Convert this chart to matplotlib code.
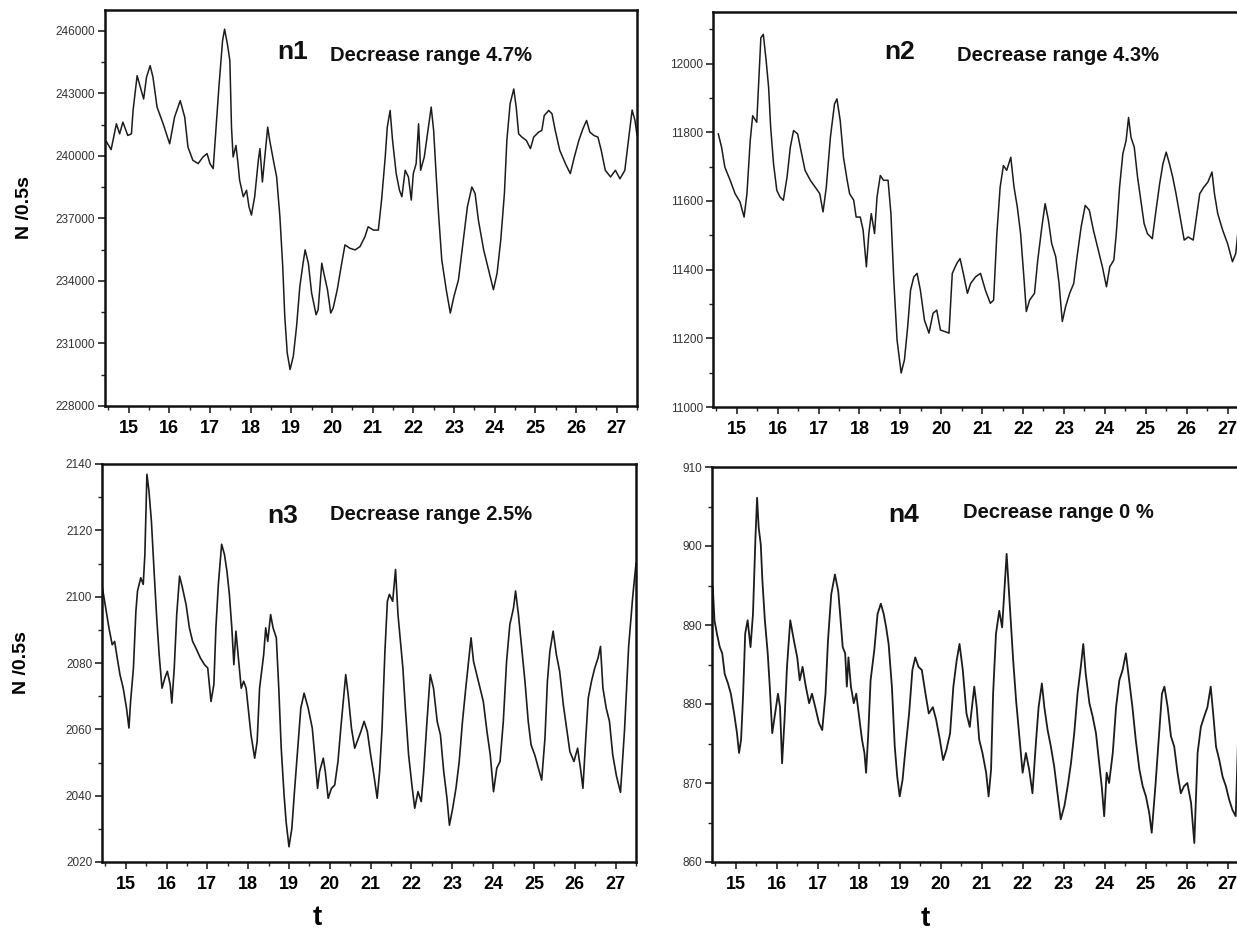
import matplotlib
matplotlib.use('Agg')
import matplotlib.pyplot as plt
from matplotlib.ticker import MultipleLocator

plt.rcParams['font.family'] = ['Liberation Sans', 'DejaVu Sans']

# ---- data ----
n1_t = [14.45, 14.57, 14.70, 14.78, 14.86, 14.98, 15.07, 15.11, 15.21, 15.29, 15.37, 15.44, 15.53, 15.60,
        15.70, 15.85, 15.93, 16.01, 16.13, 16.27, 16.38, 16.46, 16.58, 16.71, 16.83, 16.93, 17.00, 17.08,
        17.14, 17.22, 17.31, 17.36, 17.43, 17.49, 17.53, 17.57, 17.64, 17.69, 17.73, 17.82, 17.90, 17.96,
        18.02, 18.10, 18.19, 18.23, 18.29, 18.35, 18.42, 18.47, 18.56, 18.64, 18.72, 18.79, 18.84, 18.90,
        18.97, 19.05, 19.13, 19.21, 19.29, 19.34, 19.42, 19.50, 19.61, 19.66, 19.75, 19.80, 19.89, 19.97,
        20.03, 20.13, 20.24, 20.32, 20.44, 20.57, 20.69,
        20.81, 20.89, 21.02, 21.14, 21.22, 21.31, 21.36, 21.43, 21.49, 21.58, 21.66, 21.72, 21.80, 21.88,
        21.95, 22.00, 22.07, 22.13, 22.18, 22.27, 22.35, 22.44, 22.50, 22.56, 22.62, 22.70, 22.81, 22.91,
        23.00, 23.11, 23.23, 23.33, 23.44, 23.52, 23.60, 23.73, 23.85, 23.97, 24.06, 24.15, 24.24, 24.30,
        24.38, 24.47, 24.53, 24.59, 24.67, 24.78, 24.88, 24.96, 25.08, 25.16, 25.22, 25.33, 25.41, 25.49,
        25.60, 25.74, 25.86, 25.96, 26.07, 26.17, 26.26, 26.34, 26.44, 26.54, 26.62, 26.72, 26.85, 26.97,
        27.08, 27.20, 27.30, 27.38, 27.45, 27.50]
n1 = [240700, 240300, 241540, 241060, 241620, 240980, 241060, 242180, 243850, 243290, 242730, 243770,
      244330, 243770, 242340, 241540, 241060, 240580, 241860, 242650, 241860, 240420, 239790, 239630,
      239950, 240110, 239630, 239390, 241060, 243290, 245520, 246080, 245360, 244570, 241380, 239950,
      240500, 239630, 238830, 238040, 238350, 237560, 237160, 238040, 239790, 240350, 238750, 239950,
      241380, 240740, 239790, 238990, 237080, 234690, 232300, 230550, 229750, 230390, 231820, 233730,
      234850, 235490, 234850, 233420, 232380, 232620, 234850, 234370, 233580, 232460, 232700, 233580,
      234850, 235730, 235570, 235490, 235650,
      236120, 236600, 236440, 236440, 237880, 239950, 241380, 242180, 240740, 239150, 238350, 238040,
      239310, 238990, 237880, 239150, 239630, 241540, 239310, 239950, 241060, 242340, 241220, 239150,
      237240, 235010, 233580, 232460, 233260, 234050, 235960, 237560, 238510, 238190, 236920, 235490,
      234530, 233580, 234370, 235960, 238190, 240740, 242500, 243210, 242340, 241060, 240900, 240740,
      240350, 240900, 241140, 241220, 241940, 242180, 242020, 241220, 240270, 239630, 239150, 239950,
      240740, 241300, 241700, 241140, 240980, 240900, 240270, 239310, 238990, 239310,
      238900, 239300, 240900, 242200, 241700, 241000]

n2_t = [14.55, 14.63, 14.71, 14.84, 14.96, 15.08, 15.18, 15.25, 15.33, 15.39, 15.49, 15.53, 15.59, 15.65,
        15.72, 15.78, 15.83, 15.90, 15.98, 16.06, 16.14, 16.23, 16.31, 16.39, 16.49, 16.57, 16.67, 16.80,
        16.92, 17.03, 17.11, 17.19, 17.29, 17.39, 17.45, 17.53, 17.61, 17.70, 17.76, 17.86, 17.92, 18.02,
        18.09, 18.17, 18.23, 18.29, 18.37, 18.43, 18.51, 18.59, 18.70, 18.77, 18.84, 18.92, 19.02, 19.10,
        19.18, 19.25, 19.33, 19.41, 19.49, 19.59, 19.70, 19.80, 19.89, 19.98, 20.08, 20.19, 20.27, 20.38,
        20.46, 20.54, 20.64, 20.72,
        20.84, 20.96, 21.08, 21.20, 21.28, 21.36, 21.44, 21.52, 21.60, 21.70, 21.78, 21.86, 21.94, 22.02,
        22.08, 22.16, 22.28, 22.36, 22.46, 22.54, 22.62, 22.70, 22.80, 22.88, 22.96, 23.04, 23.14, 23.24,
        23.32, 23.42, 23.52, 23.62, 23.72, 23.84, 23.94, 24.04, 24.12, 24.22, 24.28, 24.36, 24.44, 24.52,
        24.58, 24.64, 24.72, 24.80, 24.88, 24.96, 25.04, 25.16, 25.24, 25.34, 25.42, 25.50, 25.58, 25.66,
        25.74, 25.84, 25.94, 26.04, 26.16, 26.24, 26.32, 26.42, 26.52, 26.62, 26.68, 26.76, 26.88, 27.00,
        27.12, 27.20, 27.25]
n2 = [11795, 11756, 11698, 11660, 11621, 11597, 11553, 11621, 11776, 11848, 11829, 11930, 12075, 12085,
      12008, 11930, 11814, 11708, 11631, 11611, 11602, 11669, 11756, 11805, 11795, 11747, 11689, 11660,
      11640, 11621, 11568, 11640, 11785, 11882, 11897, 11834, 11727, 11660, 11621, 11602, 11553, 11553,
      11515, 11408, 11505, 11563, 11505, 11611, 11674, 11660, 11660, 11563, 11370, 11195, 11099, 11137,
      11234, 11340, 11379, 11389, 11340, 11253, 11215, 11273, 11282, 11224, 11220, 11215, 11389, 11418,
      11432, 11389, 11331, 11360,
      11379, 11389, 11340, 11302, 11311, 11505, 11640, 11703, 11689, 11727, 11640, 11582, 11505, 11379,
      11278, 11311, 11331, 11428, 11524, 11592, 11544, 11476, 11437, 11360, 11249, 11292, 11331, 11360,
      11437, 11524, 11587, 11573, 11515, 11457, 11408, 11350, 11408, 11428, 11505, 11640, 11737, 11776,
      11843, 11785, 11756, 11669, 11602, 11534, 11505, 11490, 11563, 11650, 11708, 11742, 11708, 11669,
      11621, 11553, 11486, 11495, 11486, 11553, 11621, 11640, 11655, 11684, 11621, 11563, 11515, 11476,
      11423, 11447, 11505]

n3_t = [14.43, 14.51, 14.59, 14.67, 14.73, 14.78, 14.86, 14.94, 15.02, 15.08, 15.12, 15.19, 15.25, 15.29,
        15.37, 15.43, 15.47, 15.52, 15.57, 15.63, 15.70, 15.76, 15.82, 15.89, 15.96, 16.02, 16.09, 16.13,
        16.19, 16.25, 16.32, 16.39, 16.48, 16.56, 16.64, 16.72, 16.83, 16.93, 17.01, 17.09, 17.16, 17.21,
        17.27, 17.35, 17.42, 17.48, 17.54, 17.60, 17.65, 17.70, 17.76, 17.83, 17.89, 17.95, 18.01, 18.07,
        18.16, 18.22, 18.28, 18.32, 18.38, 18.43, 18.48, 18.55, 18.61, 18.69, 18.75, 18.81, 18.88, 18.93,
        19.00, 19.07, 19.14, 19.22, 19.29, 19.37, 19.47, 19.57, 19.63, 19.70, 19.75, 19.84, 19.89, 19.96,
        20.04, 20.12, 20.20, 20.27, 20.33, 20.39, 20.45, 20.53, 20.61,
        20.76, 20.84, 20.92, 21.00, 21.08, 21.16, 21.22, 21.28, 21.35, 21.41, 21.46, 21.54, 21.61, 21.67,
        21.73, 21.79, 21.85, 21.93, 22.02, 22.08, 22.16, 22.24, 22.30, 22.38, 22.46, 22.54, 22.63, 22.71,
        22.79, 22.87, 22.93, 23.01, 23.09, 23.17, 23.25, 23.33, 23.46, 23.52, 23.60, 23.68, 23.76, 23.85,
        23.93, 24.01, 24.09, 24.17, 24.25, 24.33, 24.41, 24.50, 24.55, 24.62, 24.70, 24.78, 24.86, 24.93,
        25.02, 25.11, 25.19, 25.27, 25.33, 25.39, 25.47, 25.55, 25.63, 25.72, 25.80, 25.88, 25.98, 26.07,
        26.15, 26.20, 26.26, 26.33, 26.41, 26.49, 26.57, 26.63, 26.69, 26.77, 26.85, 26.93,
        27.02, 27.12, 27.22, 27.32, 27.42, 27.50]
n3 = [2102.7, 2096.6, 2090.6, 2085.5, 2086.5, 2082.5, 2076.5, 2072.4, 2066.4, 2060.4, 2068.4, 2078.5,
      2095.6, 2101.7, 2105.7, 2103.7, 2112.7, 2136.9, 2131.9, 2122.8, 2106.7, 2093.6, 2082.5, 2072.4,
      2075.5, 2077.5, 2073.5, 2067.9, 2078.5, 2094.6, 2106.2, 2102.7, 2097.6, 2090.6, 2086.5, 2084.5,
      2081.5, 2079.5, 2078.5, 2068.4, 2073.5, 2090.6, 2103.7, 2115.8, 2112.7, 2107.7, 2100.7, 2090.6,
      2079.5, 2089.6, 2081.5, 2072.4, 2074.5, 2072.4, 2065.4, 2058.3, 2051.3, 2056.3, 2072.4, 2076.5,
      2082.5, 2090.6, 2086.5, 2094.6, 2090.6, 2087.6, 2072.4, 2054.3, 2040.2, 2032.1, 2024.6, 2030.1,
      2042.2, 2055.3, 2066.4, 2070.9, 2066.4, 2060.4, 2052.3, 2042.2, 2047.3, 2051.3, 2047.3, 2039.2,
      2042.2, 2043.2, 2050.3, 2060.4, 2068.4, 2076.5, 2070.4, 2060.4, 2054.3,
      2059.3, 2062.4, 2059.3, 2052.3, 2046.2, 2039.2, 2047.3, 2060.4, 2083.5, 2098.6, 2100.7, 2098.6,
      2108.2, 2094.6, 2086.5, 2078.5, 2066.4, 2052.3, 2042.2, 2036.2, 2041.2, 2038.2, 2047.3, 2062.4,
      2076.5, 2072.4, 2062.4, 2058.3, 2047.3, 2039.2, 2031.1, 2036.2, 2042.2, 2050.3, 2062.4, 2072.4,
      2087.6, 2080.5, 2076.5, 2072.4, 2068.4, 2059.3, 2052.3, 2041.2, 2048.3, 2050.3, 2062.4, 2080.5,
      2091.6, 2096.6, 2101.7, 2094.6, 2084.5, 2074.5, 2062.4, 2055.3, 2052.3, 2048.3, 2044.7, 2057.3,
      2074.5, 2083.5, 2089.6, 2082.5, 2077.5, 2067.4, 2060.4, 2053.3, 2050.3, 2054.3, 2047.3, 2042.2,
      2055.3, 2069.4, 2074.5, 2078.5, 2081.5, 2085.0, 2072.4, 2066.4, 2062.4, 2052.3,
      2046.0, 2041.0, 2060.0, 2085.0, 2100.0, 2110.0]

n4_t = [14.44, 14.48, 14.54, 14.61, 14.67, 14.73, 14.81, 14.88, 14.96, 15.03, 15.08, 15.13, 15.18, 15.23,
        15.29, 15.36, 15.42, 15.48, 15.52, 15.56, 15.61, 15.65, 15.71, 15.78, 15.83, 15.89, 15.96, 16.03,
        16.08, 16.13, 16.19, 16.25, 16.33, 16.42, 16.50, 16.56, 16.63, 16.71, 16.79, 16.86, 16.94, 17.03,
        17.11, 17.19, 17.25, 17.33, 17.42, 17.50, 17.54, 17.61, 17.67, 17.71, 17.75, 17.81, 17.88, 17.94,
        18.00, 18.08, 18.14, 18.18, 18.23, 18.29, 18.38, 18.46, 18.54, 18.61, 18.67, 18.73, 18.81, 18.88,
        18.94, 19.00, 19.07, 19.14, 19.23, 19.31, 19.38, 19.46, 19.54, 19.63, 19.71, 19.81, 19.89, 19.98,
        20.06, 20.14, 20.23, 20.31, 20.39, 20.46, 20.54, 20.63, 20.71,
        20.82, 20.88, 20.94, 21.02, 21.11, 21.17, 21.23, 21.28, 21.35, 21.43, 21.50, 21.55, 21.61, 21.66,
        21.72, 21.77, 21.84, 21.92, 22.00, 22.08, 22.16, 22.24, 22.33, 22.39, 22.47, 22.53, 22.61, 22.69,
        22.77, 22.85, 22.93, 23.02, 23.10, 23.18, 23.26, 23.34, 23.42, 23.48, 23.54, 23.63, 23.71, 23.79,
        23.87, 23.93, 23.99, 24.05, 24.11, 24.20, 24.28, 24.36, 24.44, 24.52, 24.60, 24.68, 24.76, 24.85,
        24.93, 25.01, 25.09, 25.15, 25.24, 25.32, 25.40, 25.46, 25.54, 25.62, 25.70, 25.78, 25.86, 25.94,
        26.02, 26.11, 26.19, 26.27, 26.35, 26.43, 26.51, 26.59, 26.65, 26.72, 26.80, 26.88, 26.96, 27.04,
        27.12, 27.20, 27.26]
n4 = [894.8, 890.6, 888.9, 887.2, 886.4, 883.8, 882.6, 881.3, 878.8, 876.3, 873.8, 875.5, 881.3, 888.9,
      890.6, 887.2, 891.4, 901.0, 906.1, 902.3, 900.2, 895.6, 890.6, 886.4, 882.2, 876.3, 878.8, 881.3,
      879.6, 872.5, 878.0, 884.7, 890.6, 888.0, 885.9, 883.0, 884.7, 882.2, 880.1, 881.3, 879.6, 877.6,
      876.7, 881.3, 888.0, 893.9, 896.4, 894.3, 891.8, 887.2, 886.4, 882.2, 885.9, 882.2, 880.1, 881.3,
      878.8, 875.5, 873.8, 871.3, 875.9, 883.0, 886.8, 891.4, 892.7, 891.4, 889.7, 887.6, 882.2, 874.6,
      870.8, 868.3, 870.4, 874.2, 878.8, 884.3, 885.9, 884.7, 884.3, 881.3, 878.8, 879.6, 878.0, 875.5,
      872.9, 874.2, 876.3, 882.2, 885.5, 887.6, 884.3, 878.8, 877.1,
      882.2, 879.6, 875.5, 873.8, 871.3, 868.3, 871.7, 881.3, 888.9, 891.8, 889.7, 893.9, 899.0, 894.8,
      889.7, 885.5, 880.5, 875.9, 871.3, 873.8, 871.7, 868.7, 875.5, 879.6, 882.6, 879.6, 876.7, 874.6,
      872.1, 868.7, 865.4, 867.1, 869.6, 872.5, 876.3, 881.3, 884.7, 887.6, 883.8, 880.1, 878.4, 876.3,
      872.5, 869.6, 865.8, 871.3, 870.0, 873.8, 879.6, 883.0, 884.3, 886.4, 883.0, 879.6, 875.5, 871.7,
      869.6, 868.3, 866.2, 863.7, 869.6, 875.5, 881.3, 882.2, 879.6, 875.9, 874.6, 871.3, 868.7, 869.6,
      870.0, 867.5, 862.4, 873.8, 877.1, 878.4, 879.6, 882.2, 878.8, 874.6, 872.9, 870.8, 869.6, 867.9,
      866.6, 865.8, 876.0]

labels = ['n1', 'n2', 'n3', 'n4']
notes = ['Decrease range 4.7%', 'Decrease range 4.3%', 'Decrease range 2.5%', 'Decrease range 0 %']
ylims = [(228000, 247000), (11000, 12150), (2020, 2140), (860, 910)]
ysteps = [3000, 200, 20, 10]
xticks = list(range(15, 28))

# ---- layout (pixel boxes measured on the 1237x933 scan) ----
W, H = 1237, 933


def box(l, r, t, b):
    return [l / W, 1 - b / H, (r - l) / W, (b - t) / H]


fig = plt.figure(figsize=(12.37, 9.33), dpi=100)
boxes = [box(105, 637, 10, 406), box(713, 1248, 12, 407),
         box(102, 636, 464, 862), box(712, 1248, 467, 862)]
# positions of the "nX" tag and the note inside each panel (axes fraction)
tag_pos = [(0.323, 0.894), (0.321, 0.899), (0.309, 0.869), (0.328, 0.878)]
note_pos = [(0.423, 0.886), (0.456, 0.891), (0.427, 0.872), (0.468, 0.886)]
series = [(n1_t, n1), (n2_t, n2), (n3_t, n3), (n4_t, n4)]
line_w = [1.1, 1.1, 1.2, 1.3]

for i in range(4):
    ax = fig.add_axes(boxes[i])
    t, v = series[i]
    ax.plot(t, v, color='#1c1c1c', lw=line_w[i])
    ax.set_xlim(14.42, 27.5)
    ax.set_ylim(*ylims[i])
    ax.set_xticks(xticks)
    ax.xaxis.set_minor_locator(MultipleLocator(0.5))
    ax.yaxis.set_major_locator(MultipleLocator(ysteps[i]))
    ax.yaxis.set_minor_locator(MultipleLocator(ysteps[i] / 2))
    ax.ticklabel_format(axis='y', style='plain', useOffset=False)
    ax.tick_params(which='major', direction='out', length=5, width=1.2, color='#222')
    ax.tick_params(which='minor', direction='out', length=3, width=1.0, color='#222')
    ax.tick_params(axis='x', labelsize=13, pad=5)
    ax.tick_params(axis='y', labelsize=8.5, pad=2, labelcolor='#333')
    for lab in ax.get_xticklabels():
        lab.set_fontweight('bold')
    for s in ax.spines.values():
        s.set_linewidth(1.8)
        s.set_color('#111')

    ax.text(tag_pos[i][0], tag_pos[i][1], labels[i], transform=ax.transAxes,
            fontsize=19, fontweight='bold', va='center', ha='left', color='#111')
    ax.text(note_pos[i][0], note_pos[i][1], notes[i], transform=ax.transAxes,
            fontsize=14.5, fontweight='bold', va='center', ha='left', color='#111')

    if i in (0, 2):
        ax.set_ylabel('N /0.5s', fontsize=14, fontweight='bold')
        ax.yaxis.set_label_coords(-0.135, 0.5)
    if i == 2:
        ax.set_xlabel('t', fontsize=20, fontweight='bold')
        ax.xaxis.set_label_coords(0.404, -0.108)
    if i == 3:
        ax.set_xlabel('t', fontsize=20, fontweight='bold')
        ax.xaxis.set_label_coords(0.397, -0.112)

fig.savefig('out.png', dpi=100)
